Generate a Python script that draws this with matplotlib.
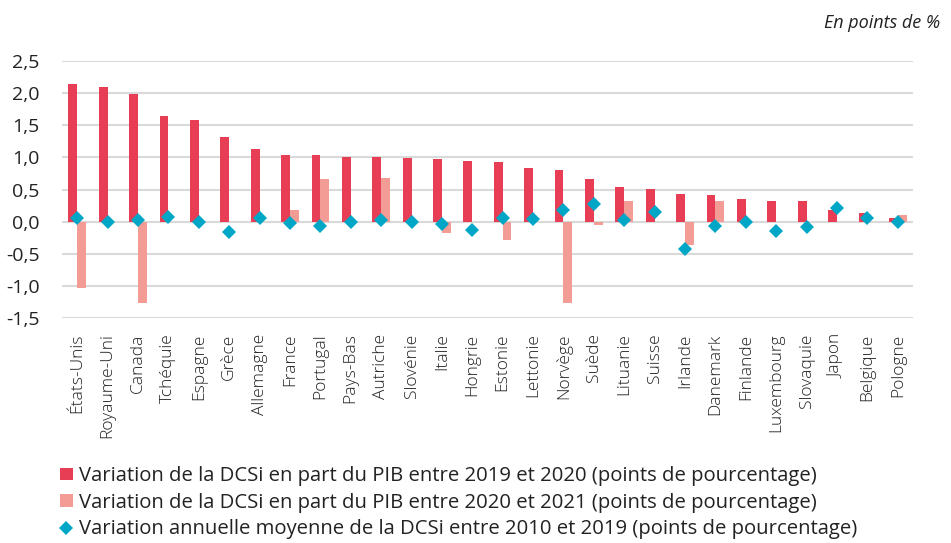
import matplotlib.pyplot as plt
import numpy as np

plt.rcParams['font.family'] = ['Open Sans', 'DejaVu Sans']

countries = ["États-Unis", "Royaume-Uni", "Canada", "Tchéquie", "Espagne", "Grèce",
             "Allemagne", "France", "Portugal", "Pays-Bas", "Autriche", "Slovénie",
             "Italie", "Hongrie", "Estonie", "Lettonie", "Norvège", "Suède",
             "Lituanie", "Suisse", "Irlande", "Danemark", "Finlande", "Luxembourg",
             "Slovaquie", "Japon", "Belgique", "Pologne"]

var_2019_2020 = [2.14, 2.10, 1.99, 1.64, 1.58, 1.31, 1.13, 1.04, 1.035, 1.005, 1.00, 0.995,
                 0.98, 0.95, 0.93, 0.83, 0.80, 0.67, 0.54, 0.51, 0.43, 0.41, 0.36, 0.32,
                 0.32, 0.18, 0.13, 0.05]
var_2020_2021 = [-1.03, 0.0, -1.27, 0.0, 0.0, 0.0, 0.0, 0.18, 0.66, 0.0, 0.68, 0.0,
                 -0.18, 0.0, -0.28, 0.0, -1.26, -0.05, 0.32, 0.0, -0.37, 0.32, 0.0, 0.0,
                 0.0, 0.0, 0.0, 0.10]
var_moy_2010_2019 = [0.05, -0.01, 0.02, 0.08, 0.0, -0.16, 0.06, -0.02, -0.06, 0.0, 0.03, 0.0,
                     -0.03, -0.13, 0.05, 0.04, 0.18, 0.28, 0.02, 0.15, -0.43, -0.06, 0.0, -0.14,
                     -0.09, 0.21, 0.05, 0.0]

yticks = [-1.5, -1.0, -0.5, 0.0, 0.5, 1.0, 1.5, 2.0, 2.5]

red = "#E83E55"
pink = "#F39B95"
teal = "#00A6C6"
txt = "#222222"

fig = plt.figure(figsize=(9.51, 5.43), dpi=100)
ax = fig.add_axes([0.0652, 0.414, 0.8948, 0.474])

x = np.arange(len(countries))
w = 0.29
b1 = ax.bar(x - w / 2, var_2019_2020, width=w, color=red, zorder=2)
b2 = ax.bar(x + w / 2, var_2020_2021, width=w, color=pink, zorder=2)
ax.plot(x, var_moy_2010_2019, linestyle="none", marker="D", markersize=7.5,
        markeredgewidth=0, color=teal, zorder=3)

ax.set_xlim(-0.5, len(countries) - 0.5)
ax.set_ylim(-1.5, 2.5)
ax.set_yticks(yticks)
ax.set_yticklabels([f"{v:.1f}".replace(".", ",") for v in yticks], fontsize=14, color=txt)
ax.set_xticks(x)
ax.set_xticklabels(countries, rotation=90, fontsize=12.5, color=txt, fontweight="light")
ax.tick_params(axis="y", length=0, pad=16)
ax.tick_params(axis="x", length=0, pad=11)
for s in ax.spines.values():
    s.set_visible(False)
ax.yaxis.grid(True, color="#d9d9d9", linewidth=1.5, zorder=0)
ax.set_axisbelow(True)

fig.text(0.989, 0.958, "En points de %", ha="right", va="center", fontsize=13,
         style="italic", color=txt)

legend_labels = [
    "Variation de la DCSi en part du PIB entre 2019 et 2020 (points de pourcentage)",
    "Variation de la DCSi en part du PIB entre 2020 et 2021 (points de pourcentage)",
    "Variation annuelle moyenne de la DCSi entre 2010 et 2019 (points de pourcentage)",
]
leg_l3, = ax.plot([], [], linestyle="none", marker="D", markersize=7, markeredgewidth=0, color=teal)
fig.legend([b1, b2, leg_l3], legend_labels, loc="upper left",
           bbox_to_anchor=(60 / 951, 1 - 466 / 543), borderaxespad=0, borderpad=0,
           frameon=False, fontsize=14.6,
           handlelength=0.64, handleheight=0.56, handletextpad=0.3, labelspacing=0.33,
           labelcolor=txt)

fig.savefig("out.png", dpi=100)
